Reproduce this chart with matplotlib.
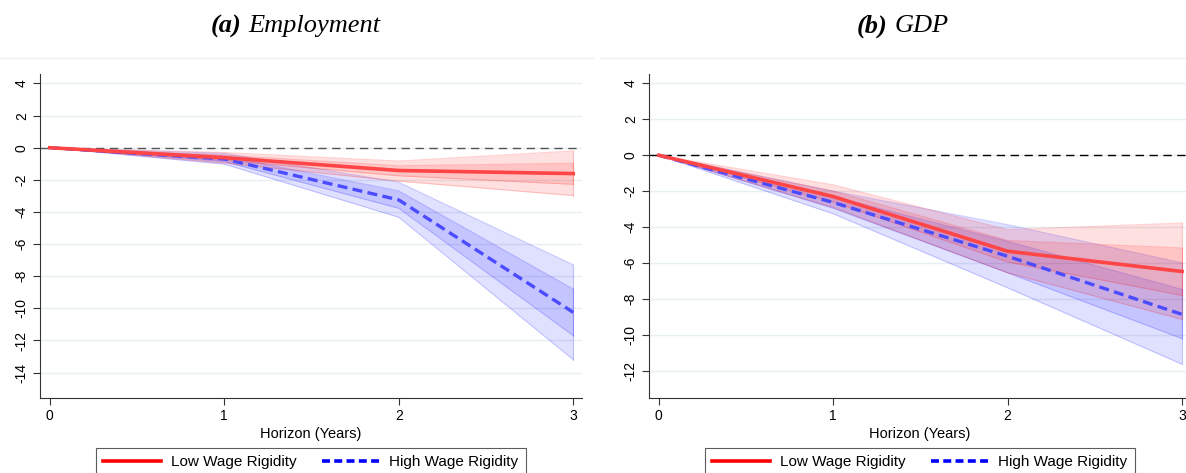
import matplotlib
matplotlib.use("Agg")
import matplotlib.pyplot as plt
from matplotlib.lines import Line2D

plt.rcParams['font.family'] = ['Liberation Sans', 'DejaVu Sans']

horizon = [0, 1, 2, 3]

# (a) Employment
emp_low = [0, -0.62, -1.42, -1.61]
emp_low_in_hi = [0, -0.47, -1.12, -0.97]
emp_low_in_lo = [0, -0.78, -1.75, -2.28]
emp_low_out_hi = [0, -0.30, -0.83, -0.20]
emp_low_out_lo = [0, -0.95, -2.08, -2.98]

emp_high = [0, -0.70, -3.25, -10.25]
emp_high_in_hi = [0, -0.52, -2.69, -8.80]
emp_high_in_lo = [0, -0.86, -3.77, -11.70]
emp_high_out_hi = [0, -0.35, -2.15, -7.29]
emp_high_out_lo = [0, -1.02, -4.33, -13.20]

# (b) GDP
gdp_low = [0, -2.30, -5.35, -6.48]
gdp_low_in_hi = [0, -2.00, -4.75, -5.17]
gdp_low_in_lo = [0, -2.60, -5.95, -7.81]
gdp_low_out_hi = [0, -1.65, -4.15, -3.78]
gdp_low_out_lo = [0, -2.90, -6.55, -9.15]

gdp_high = [0, -2.63, -5.63, -8.87]
gdp_high_in_hi = [0, -2.30, -4.80, -7.48]
gdp_high_in_lo = [0, -2.95, -6.55, -10.22]
gdp_high_out_hi = [0, -2.00, -3.87, -6.00]
gdp_high_out_lo = [0, -3.26, -7.39, -11.65]

titles = [("(a)", "Employment"), ("(b)", "GDP")]
legend_labels = ["Low Wage Rigidity", "High Wage Rigidity"]

red = "#ff4545"
blue = "#4b4bff"

fig = plt.figure(figsize=(11.86, 4.73), dpi=100)
ax1 = fig.add_axes([0.0337, 0.1586, 0.4570, 0.6850])
ax2 = fig.add_axes([0.5472, 0.1586, 0.4568, 0.6850])


def band(ax, lo, hi, col):
    ax.fill_between(horizon, lo, hi, color=col, alpha=0.12, lw=0, zorder=2)
    ax.plot(horizon, lo, color=col, alpha=0.18, lw=0.8, zorder=2)
    ax.plot(horizon, hi, color=col, alpha=0.18, lw=0.8, zorder=2)
    ax.plot([3, 3], [lo[-1], hi[-1]], color=col, alpha=0.18, lw=0.8, zorder=2)


def panel(ax, low, l_in, l_out, high, h_in, h_out, ylim, yticks, zcol):
    for y in yticks:
        ax.axhline(y, color="#e6eff0", lw=1.0, zorder=0)
    ax.axhline(0, color=zcol, lw=1.0, ls=(0, (6, 4)), zorder=1)
    band(ax, h_out[0], h_out[1], "#0000ff")
    band(ax, h_in[0], h_in[1], "#0000ff")
    ax.plot(horizon, high, color=blue, lw=2.4, ls=(0, (3.0, 1.6)), zorder=3)
    band(ax, l_out[0], l_out[1], "#ff0000")
    band(ax, l_in[0], l_in[1], "#ff0000")
    ax.plot(horizon, low, color=red, lw=2.6, zorder=4)
    ax.set_xlim(-0.056, 3.05)
    ax.set_ylim(ylim)
    ax.set_xticks(horizon)
    ax.set_yticks(yticks)
    ax.set_yticklabels([str(v) for v in yticks], rotation=90, va="center")
    ax.tick_params(axis="both", labelsize=10, length=5, width=0.8, color="#333333", pad=3)
    ax.spines["top"].set_visible(False)
    ax.spines["right"].set_visible(False)
    ax.spines["left"].set_color("#333333")
    ax.spines["bottom"].set_color("#333333")
    ax.set_xlabel("Horizon (Years)", fontsize=10.5, labelpad=3)
    handles = [Line2D([], [], color="red", lw=2.6),
               Line2D([], [], color="blue", lw=2.6, ls=(0, (2.2, 1.2)))]
    leg = ax.legend(handles, legend_labels, loc="upper center", bbox_to_anchor=(0.5, -0.13),
                    ncol=2, frameon=True, fancybox=False, fontsize=11, handlelength=3.8,
                    handletextpad=0.6, columnspacing=1.7, borderpad=0.5)
    leg.get_frame().set_edgecolor("#333333")
    leg.get_frame().set_linewidth(0.8)


panel(ax1, emp_low, (emp_low_in_lo, emp_low_in_hi), (emp_low_out_lo, emp_low_out_hi),
      emp_high, (emp_high_in_lo, emp_high_in_hi), (emp_high_out_lo, emp_high_out_hi),
      (-15.58, 4.59), list(range(4, -16, -2)), "#555555")
panel(ax2, gdp_low, (gdp_low_in_lo, gdp_low_in_hi), (gdp_low_out_lo, gdp_low_out_hi),
      gdp_high, (gdp_high_in_lo, gdp_high_in_hi), (gdp_high_out_lo, gdp_high_out_hi),
      (-13.53, 4.53), list(range(4, -14, -2)), "black")

# titles: bold italic tag + italic name, centred together
W = fig.bbox.width
fig.canvas.draw()
r = fig.canvas.get_renderer()
for cx, (tag, name), x0, x1 in [(296, titles[0], 0.0, 0.500), (903, titles[1], 0.506, 1.0)]:
    a = fig.text(0, 0.944, tag, fontsize=19, family="Liberation Serif",
                 style="italic", weight="bold", ha="left", va="center")
    b = fig.text(0, 0.944, name, fontsize=19, family="Liberation Serif",
                 style="italic", ha="left", va="center")
    wa = a.get_window_extent(r).width
    wb = b.get_window_extent(r).width
    gap = 7
    start = cx - (wa + gap + wb) / 2
    a.set_x(start / W)
    b.set_x((start + wa + gap) / W)
    fig.add_artist(Line2D([x0, x1], [1 - 58 / 473, 1 - 58 / 473], color="#eeeeee", lw=1.0))

fig.savefig("out.png", dpi=100)
